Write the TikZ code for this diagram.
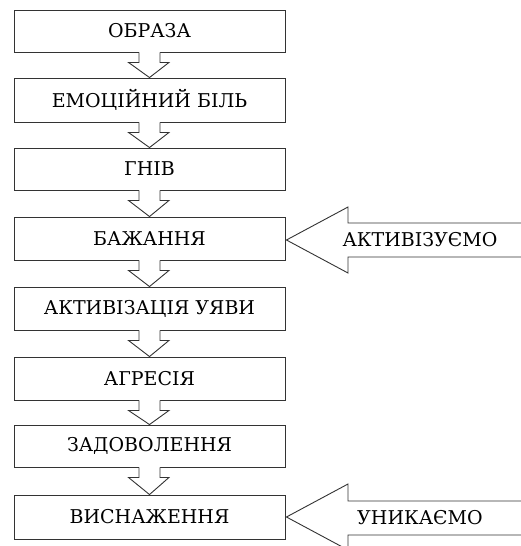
\documentclass[tikz,border=0pt]{standalone}
\usepackage{fontspec}
\setmainfont{DejaVu Serif}
\usetikzlibrary{calc}
\tikzset{
  stagebox/.style={draw=black!80, line width=0.9pt, fill=white, minimum width=271pt, minimum height=42pt, inner sep=0pt, font=\fontsize{19}{22}\selectfont},
  flowarrow/.style={draw=black!80, line width=0.9pt, fill=white, line join=miter},
  sidelabel/.style={inner sep=0pt, font=\fontsize{19}{22}\selectfont},
}
\newcommand{\dnarrow}[2]{%
  \fill[white] ($(#1.south)+(-10.5,-1.5)$) rectangle ($(#1.south)+(10.5,1)$);
  \path[flowarrow] ($(#1.south)+(-10.5,-0.2)$) -- ++(0,10.2) -- ++(-10.5,0) -- ($(#2.north)+(0,0)$) -- ($(#1.south)+(19.5,10)$) -- ++(-9,0) -- ++(0,-10.2);
}
\begin{document}
\begin{tikzpicture}[x=1pt,y=-1pt]
\useasboundingbox (0,0) rectangle (521,546);
\node[stagebox] (b1) at (149.5,31) {ОБРАЗА};
\node[stagebox, minimum height=44pt] (b2) at (149.5,100) {ЕМОЦІЙНИЙ БІЛЬ};
\node[stagebox] (b3) at (149.5,169) {ГНІВ};
\node[stagebox, minimum height=43pt] (b4) at (149.5,238.5) {БАЖАННЯ};
\node[stagebox, minimum height=43pt] (b5) at (149.5,308.5) {АКТИВІЗАЦІЯ УЯВИ};
\node[stagebox, minimum height=43pt] (b6) at (149.5,378.5) {АГРЕСІЯ};
\node[stagebox] (b7) at (149.5,446) {ЗАДОВОЛЕННЯ};
\node[stagebox, minimum height=44pt] (b8) at (149.5,517) {ВИСНАЖЕННЯ};
\dnarrow{b1}{b2}
\dnarrow{b2}{b3}
\dnarrow{b3}{b4}
\dnarrow{b4}{b5}
\dnarrow{b5}{b6}
\dnarrow{b6}{b7}
\dnarrow{b7}{b8}
% side arrows
\coordinate (e1) at (521,240);
\path[flowarrow] ($(e1)+(0,-17)$) -- (348,223) -- (348,207) -- ($(b4.east)+(1,1.5)$) -- (348,273) -- (348,257) -- ($(e1)+(0,17)$);
\node[sidelabel] (t1) at (420,240) {АКТИВІЗУЄМО};
\coordinate (e2) at (521,518);
\path[flowarrow] ($(e2)+(0,-17)$) -- (348,501) -- (348,484) -- ($(b8.east)+(1,0)$) -- (348,550) -- (348,535) -- ($(e2)+(0,17)$);
\node[sidelabel] (t2) at (420,518) {УНИКАЄМО};
\end{tikzpicture}
\end{document}
